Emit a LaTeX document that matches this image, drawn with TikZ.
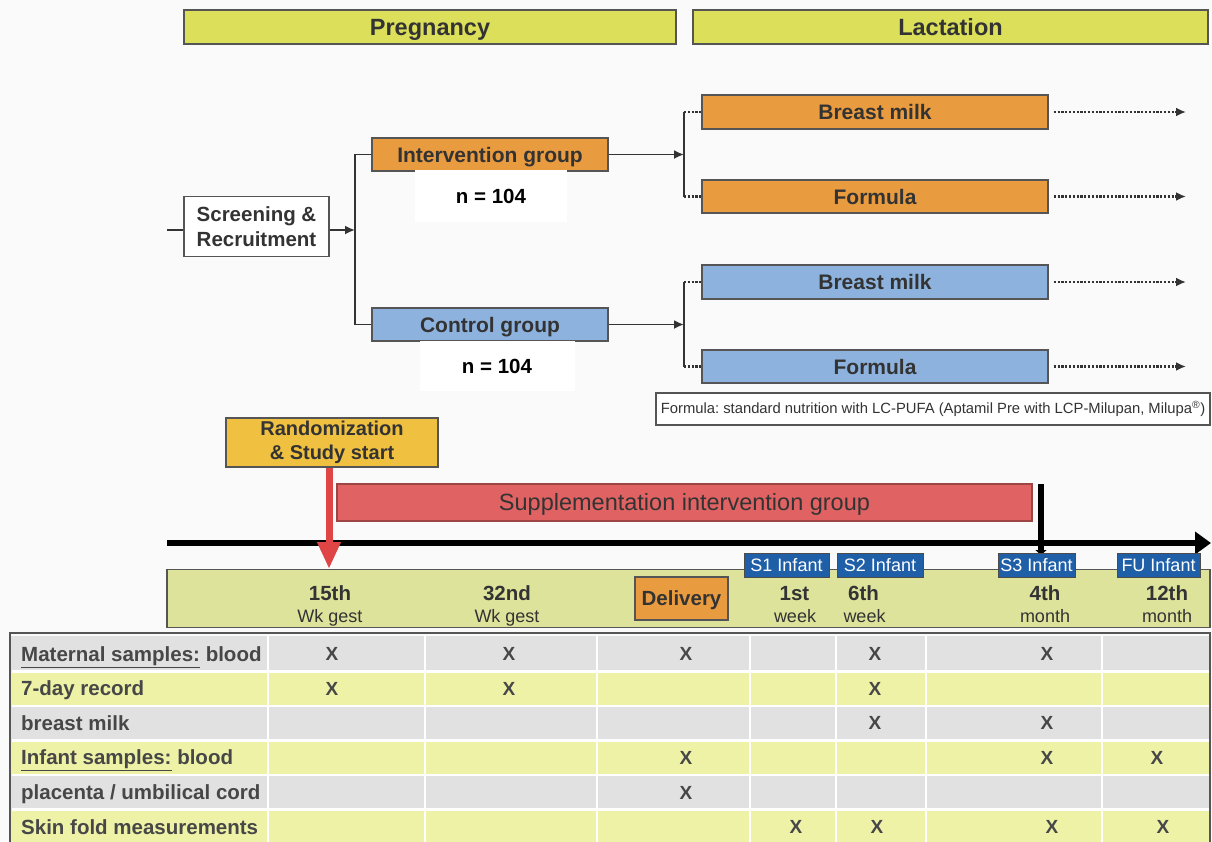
\documentclass[tikz,border=0pt]{standalone}
\usepackage{fontspec}
\setmainfont{Liberation Sans}
\frenchspacing
\usetikzlibrary{arrows.meta}
\definecolor{bgcol}{HTML}{FAFAFA}
\definecolor{hdryellow}{HTML}{DCDF5A}
\definecolor{orangebox}{HTML}{E99B3F}
\definecolor{bluebox}{HTML}{8EB2DE}
\definecolor{goldbox}{HTML}{F0C040}
\definecolor{redbar}{HTML}{E06262}
\definecolor{redarrow}{HTML}{E04545}
\definecolor{bandgreen}{HTML}{DEE39C}
\definecolor{smallblue}{HTML}{1F5FA8}
\definecolor{rowgray}{HTML}{E1E1E1}
\definecolor{rowyellow}{HTML}{EEF2A6}
\definecolor{txtdark}{HTML}{333333}
\definecolor{edge}{HTML}{555555}
\begin{document}
\begin{tikzpicture}[x=1pt,y=-1pt,
  oneline/.style={text height=#1, text depth=0pt},
  box/.style={draw=edge, line width=1.4pt, inner sep=0pt, text=txtdark,
    font=\fontsize{21}{24}\selectfont\bfseries},
  hdr/.style={box, oneline=16.8pt, fill=hdryellow, minimum height=34pt, font=\fontsize{23.5}{26}\selectfont\bfseries},
  obox/.style={box, oneline=15pt, fill=orangebox},
  bbox/.style={box, oneline=15pt, fill=bluebox},
  nlabel/.style={fill=white, inner sep=0pt, text=black, font=\fontsize{20.5}{24}\selectfont\bfseries, oneline=14.7pt},
  conn/.style={draw=txtdark, line width=1.8pt},
  dotconn/.style={draw=txtdark, line width=2.3pt, dash pattern=on 2.2pt off 1.6pt},
  sbox/.style={draw=black!70, fill=smallblue, line width=1pt, inner sep=0pt, minimum height=24pt,
    text=white, font=\fontsize{18}{20}\selectfont, oneline=12.9pt},
  tbold/.style={text=txtdark, font=\fontsize{20.5}{24}\selectfont\bfseries, inner sep=0pt, oneline=14.7pt},
  treg/.style={text=txtdark, font=\fontsize{18}{22}\selectfont, inner sep=0pt, oneline=12.9pt},
  rowlab/.style={anchor=west, text=txtdark!90, font=\fontsize{20.5}{24}\selectfont\bfseries, inner sep=0pt, oneline=14.7pt},
  xmark/.style={text=txtdark!90, font=\fontsize{19}{22}\selectfont\bfseries, inner sep=0pt, oneline=13.6pt}
]
\fill[bgcol] (0,0) rectangle (1212,841);
\useasboundingbox (0,0) rectangle (1212,841);

% headers
\node[hdr, minimum width=492pt] (preg) at (430,27) {Pregnancy};
\node[hdr, minimum width=515pt] (lact) at (950.5,27) {Lactation};

% flow chart
\node[box, fill=white, minimum width=145pt, minimum height=60pt, align=center,
  font=\fontsize{20.5}{25}\selectfont\bfseries] (scr) at (256.5,226.5) {Screening \&\\Recruitment};
\node[obox, minimum width=236pt, minimum height=33pt] (int) at (490,154.5) {Intervention group};
\node[bbox, minimum width=236pt, minimum height=33pt] (ctl) at (490,324.5) {Control group};
\node[nlabel, minimum width=152pt, minimum height=52pt] (n1) at (491,196) {n = 104};
\node[nlabel, minimum width=155pt, minimum height=50pt] (n2) at (497,366) {n = 104};

\node[obox, minimum width=346pt, minimum height=34pt] (bm1) at (875,112) {Breast milk};
\node[obox, minimum width=346pt, minimum height=33pt] (f1) at (875,196.5) {Formula};
\node[bbox, minimum width=346pt, minimum height=34pt] (bm2) at (875,282) {Breast milk};
\node[bbox, minimum width=346pt, minimum height=33pt] (f2) at (875,366.5) {Formula};

\node[draw=edge, line width=1.2pt, fill=white, minimum width=554pt, minimum height=32pt, inner sep=0pt,
  text=txtdark, font=\fontsize{14.8}{16}\selectfont] (note) at (933,409)
  {Formula: standard nutrition with LC-PUFA (Aptamil Pre with LCP-Milupan, Milupa\textsuperscript{®})};

\coordinate (in0) at (167,230);
\coordinate (br1) at (355,230);
\coordinate (br2) at (684,154.5);
\coordinate (br3) at (684,324.5);
\coordinate (e1) at (1186,112);
\coordinate (e2) at (1186,196.5);
\coordinate (e3) at (1186,282);
\coordinate (e4) at (1186,366.5);

\draw[conn] (in0) -- (in0 -| scr.west);
\draw[conn, -{Latex[length=10pt,width=9pt]}] (scr.east |- br1) -- (br1);
\draw[conn] (int.west) -| (br1) |- (ctl.west);
\draw[conn, -{Latex[length=10pt,width=9pt]}] (int.east) -- (br2);
\draw[conn, -{Latex[length=10pt,width=9pt]}] (ctl.east) -- (br3);
\draw[conn] (br2 |- bm1.west) -- (br2 |- f1.west);
\draw[conn] (br3 |- bm2.west) -- (br3 |- f2.west);
\draw[dotconn] (br2 |- bm1.west) -- (bm1.west);
\draw[dotconn] (br2 |- f1.west) -- (f1.west);
\draw[dotconn] (br3 |- bm2.west) -- (bm2.west);
\draw[dotconn] (br3 |- f2.west) -- (f2.west);
\foreach \b/\e in {bm1/e1, f1/e2, bm2/e3, f2/e4}{
  \draw[dotconn, -{Latex[length=10pt,width=9pt]}] ([xshift=5pt]\b.east) -- (\e);
}

% timeline
\node[box, fill=goldbox, minimum width=212pt, minimum height=49pt, align=center,
  font=\fontsize{20}{24}\selectfont\bfseries] (rand) at (332,442.5) {Randomization\\\& Study start};
\node[draw=redbar!70!black, line width=1.2pt, fill=redbar, minimum width=695pt, minimum height=37pt, inner sep=0pt,
  text=txtdark, font=\fontsize{23.5}{26}\selectfont, oneline=16.8pt] (supp) at (684.5,502.5) {Supplementation intervention group};

\node[draw=edge, line width=1.2pt, fill=bandgreen, minimum width=1043pt, minimum height=58pt, inner sep=0pt] (band) at (688.5,598.5) {};

\coordinate (ax0) at (167,543);
\coordinate (ax1) at (1211,543);
\draw[line width=6pt, -{Triangle[length=16pt,width=22pt]}] (ax0) -- (ax1);

\coordinate (r15) at (329,569);
\draw[draw=redarrow, line width=7pt, -{Triangle[length=27pt,width=22pt]}] (rand.south -| r15) -- (r15);

\coordinate (s3a) at (1041,484);
\coordinate (s3b) at (1041,555);
\draw[line width=6pt, -{Triangle[length=5pt,width=11pt]}] (s3a) -- (s3b);

\node[box, oneline=14.7pt, fill=orangebox, minimum width=93pt, minimum height=43pt, line width=1.2pt,
  font=\fontsize{20.5}{24}\selectfont\bfseries] (deliv) at (681.5,598.5) {Delivery};

\node[sbox, minimum width=85pt] (s1) at (786.5,565) {S1 Infant};
\node[sbox, minimum width=86pt] (s2) at (880,565) {S2 Infant};
\node[sbox, minimum width=77pt] (s3) at (1036.5,565) {S3 Infant};
\node[sbox, minimum width=83pt] (fu) at (1158.5,565) {FU Infant};

\node[tbold] (t1a) at (330,593.5) {15th};
\node[treg]  (t1b) at (330,616.5) {Wk gest};
\node[tbold] (t2a) at (507,593.5) {32nd};
\node[treg]  (t2b) at (507,616.5) {Wk gest};
\node[tbold] (t3a) at (794.5,593.5) {1st};
\node[treg]  (t3b) at (795,616.5) {week};
\node[tbold] (t4a) at (863.5,593.5) {6th};
\node[treg]  (t4b) at (864.5,616.5) {week};
\node[tbold] (t5a) at (1045,593.5) {4th};
\node[treg]  (t5b) at (1045,616.5) {month};
\node[tbold] (t6a) at (1167,593.5) {12th};
\node[treg]  (t6b) at (1167,616.5) {month};

% table
\fill[rowgray]   (10,636) rectangle (1210,671.5);
\fill[rowyellow] (10,671.5) rectangle (1210,706);
\fill[rowgray]   (10,706) rectangle (1210,740.5);
\fill[rowyellow] (10,740.5) rectangle (1210,775);
\fill[rowgray]   (10,775) rectangle (1210,809.5);
\fill[rowyellow] (10,809.5) rectangle (1210,845);
\foreach \yy in {671.5,706,740.5,775,809.5}{
  \draw[white, line width=2.5pt] (12,\yy) -- (1209,\yy);
}
\foreach \xx in {268,425,597,750,836,926,1102}{
  \draw[white, line width=2.5pt] (\xx,636) -- (\xx,845);
}
\draw[edge, line width=2.2pt] (10,845) -- (10,633) -- (1210,633) -- (1210,845);

\node[rowlab] (l1) at (21,654) {\underline{Maternal samples:} blood};
\node[rowlab] (l2) at (21,688.5) {7-day record};
\node[rowlab] (l3) at (21,723) {breast milk};
\node[rowlab] (l4) at (21,757.5) {\underline{Infant samples:} blood};
\node[rowlab] (l5) at (21,792.5) {placenta / umbilical cord};
\node[rowlab] (l6) at (21,827) {Skin fold measurements};

% X marks
\foreach \xx/\yy in {332/654, 509/654, 686/654, 875/654, 1047/654,
                     332/688.5, 509/688.5, 875/688.5,
                     875/723, 1047/723,
                     686/757.5, 1047/757.5, 1157/757.5,
                     686/792.5,
                     796/827, 877/827, 1052/827, 1163/827}{
  \node[xmark] at (\xx,\yy) {X};
}
\end{tikzpicture}
\end{document}
